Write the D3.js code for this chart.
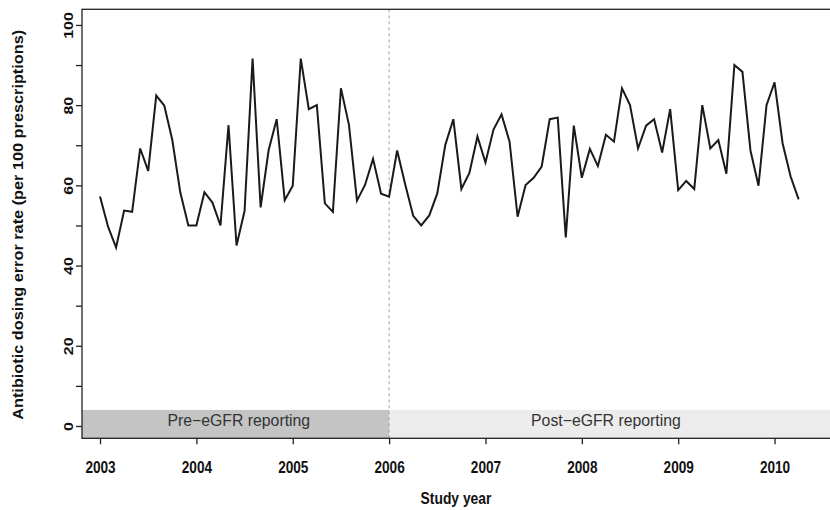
<!DOCTYPE html>
<html>
<head>
<meta charset="utf-8">
<script src="https://cdn.jsdelivr.net/npm/d3@7"></script>
<style>
  html, body { margin: 0; padding: 0; background: #fff; }
  svg { display: block; }
  text { font-family: "Liberation Sans", Arial, Helvetica, sans-serif; }
</style>
</head>
<body>
<svg id="chart" width="830" height="510"></svg>
<script>
// Monthly antibiotic dosing error rate, January 2003 to April 2010
const startYear = 2003;
const errorRate = [
  57.2, 49.7, 44.5, 53.7, 53.4, 69.2, 63.6, 82.4, 79.9, 71.3, 58.2, 50.0,
  50.0, 58.3, 55.7, 50.0, 75.0, 45.0, 53.6, 91.6, 54.5, 68.8, 76.5, 56.3,
  59.9, 91.6, 79.0, 80.0, 55.5, 53.4, 84.2, 75.1, 56.2, 60.1, 66.6, 57.9,
  57.2, 68.7, 60.3, 52.4, 50.0, 52.5, 58.0, 70.1, 76.5, 59.1, 63.1, 72.2,
  65.7, 73.9, 77.7, 70.9, 52.2, 60.1, 61.9, 64.7, 76.5, 76.9, 47.0, 74.9,
  61.9, 69.1, 64.8, 72.6, 70.9, 84.2, 80.0, 69.2, 74.9, 76.5, 68.2, 79.0,
  58.8, 61.1, 59.1, 80.0, 69.2, 71.3, 62.9, 90.0, 88.3, 68.7, 59.9, 80.0,
  85.7, 70.5, 62.2, 56.5
];
const yearTicks = [2003, 2004, 2005, 2006, 2007, 2008, 2009, 2010];
const rateTicks = [0, 10, 20, 30, 40, 50, 60, 70, 80, 90, 100];
const rateLabels = [0, 20, 40, 60, 80, 100];
const periods = [
  { label: "Pre\u2212eGFR reporting", from: 2002.813, to: 2006, labelAt: 2004.44, fill: "#c4c4c4" },
  { label: "Post\u2212eGFR reporting", from: 2006, to: 2010.62, labelAt: 2008.25, fill: "#ececec" }
];
const cutoverYear = 2006;

const series = errorRate.map((v, i) => ({ t: startYear + i / 12, v }));

const svg = d3.select("#chart");
const x = d3.scaleLinear().domain([2002.813, 2010.62]).range([82, 834.3]);
const y = d3.scaleLinear().domain([-3.07, 103.9]).range([438.3, 9.3]);

const [x0, x1] = x.range();
const [yb, yt] = y.range();
const squeeze = 0.85;   // narrow glyph proportions of the axis lettering

// shaded period strips along the bottom
const bandTop = 4;
svg.append("g").selectAll("rect").data(periods).join("rect")
  .attr("x", d => x(d.from))
  .attr("width", d => x(d.to) - x(d.from))
  .attr("y", y(bandTop))
  .attr("height", yb - y(bandTop))
  .attr("fill", d => d.fill);

svg.append("g").selectAll("text").data(periods).join("text")
  .attr("x", d => x(d.labelAt))
  .attr("y", y(0) + 0.5)
  .attr("text-anchor", "middle")
  .attr("font-size", 15.8)
  .attr("fill", "#333")
  .text(d => d.label);

// reporting change marker
svg.append("line")
  .attr("x1", x(cutoverYear)).attr("x2", x(cutoverYear))
  .attr("y1", yt).attr("y2", yb)
  .attr("stroke", "#a0a0a0").attr("stroke-width", 1)
  .attr("stroke-dasharray", "3,3");

// error rate line
svg.append("path")
  .datum(series)
  .attr("fill", "none")
  .attr("stroke", "#1a1a1a")
  .attr("stroke-width", 2)
  .attr("stroke-linejoin", "miter")
  .attr("d", d3.line().x(d => x(d.t)).y(d => y(d.v)));

// frame
svg.append("rect")
  .attr("x", x0).attr("y", yt)
  .attr("width", x1 - x0).attr("height", yb - yt)
  .attr("fill", "none").attr("stroke", "#222").attr("stroke-width", 1.3);

// x axis
const xAxis = svg.append("g")
  .attr("transform", `translate(0,${yb})`)
  .call(d3.axisBottom(x).tickValues(yearTicks).tickSize(6).tickFormat(d3.format("d")));
xAxis.select(".domain").remove();
xAxis.selectAll(".tick line").attr("stroke", "#222").attr("stroke-width", 1.3);
xAxis.selectAll(".tick text")
  .attr("font-size", 16).attr("font-weight", "bold").attr("fill", "#111")
  .attr("font-family", "Liberation Sans, Arial, sans-serif")
  .attr("y", null).attr("dy", null)
  .attr("transform", `translate(0,34.7) scale(${squeeze},1)`);

// y axis
const yAxis = svg.append("g")
  .attr("transform", `translate(${x0},0)`)
  .call(d3.axisLeft(y).tickValues(rateTicks).tickSize(6)
    .tickFormat(d => rateLabels.includes(d) ? d : ""));
yAxis.select(".domain").remove();
yAxis.selectAll(".tick line").attr("stroke", "#222").attr("stroke-width", 1.3);
yAxis.selectAll(".tick text")
  .attr("font-size", 16).attr("font-weight", "bold").attr("fill", "#111")
  .attr("font-family", "Liberation Sans, Arial, sans-serif")
  .attr("text-anchor", "middle")
  .attr("x", 0).attr("dy", 0)
  .attr("transform", `translate(-9,0) scale(${squeeze},1) rotate(-90)`);

// axis titles
svg.append("text")
  .attr("transform", `translate(${(x0 + 830) / 2},504) scale(${squeeze},1)`)
  .attr("text-anchor", "middle")
  .attr("font-size", 16.3).attr("font-weight", "bold").attr("fill", "#111")
  .text("Study year");

svg.append("text")
  .attr("transform", `translate(23,${(yt + yb) / 2 + 1}) scale(${squeeze},1) rotate(-90)`)
  .attr("text-anchor", "middle")
  .attr("font-size", 16.3).attr("font-weight", "bold").attr("fill", "#111")
  .text("Antibiotic dosing error rate (per 100 prescriptions)");
</script>
</body>
</html>
